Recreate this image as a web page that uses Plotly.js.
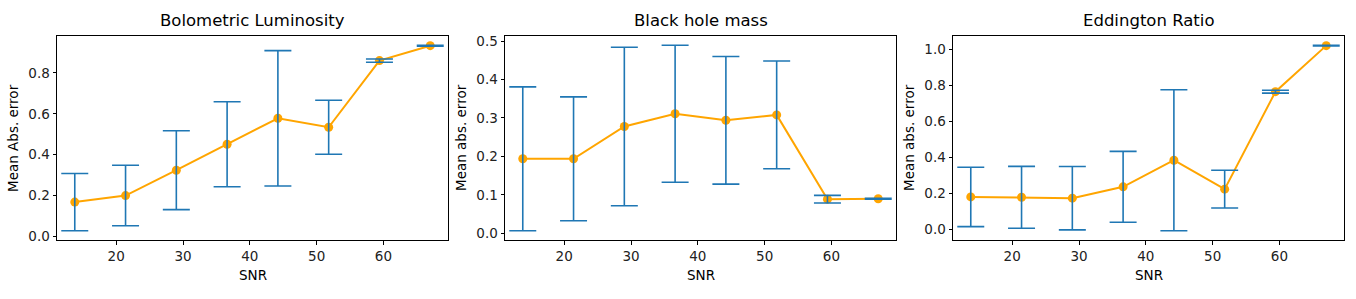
<!DOCTYPE html>
<html>
<head>
<meta charset="utf-8">
<script src="https://cdn.plot.ly/plotly-3.0.1.min.js"></script>
<style>html,body{margin:0;padding:0;background:#fff;}#chart{width:1356px;height:299px;}</style>
</head>
<body>
<div id="chart"></div>
<script>
// ---- data ----
const snr = [13.8, 21.4, 29.0, 36.6, 44.2, 51.8, 59.4, 67.0];
const lumMae = [0.168, 0.200, 0.324, 0.451, 0.578, 0.534, 0.860, 0.933];
const lumErr = [0.140, 0.148, 0.193, 0.208, 0.331, 0.132, 0.008, 0.002];
const bhMae = [0.194, 0.194, 0.278, 0.311, 0.294, 0.308, 0.089, 0.090];
const bhErr = [0.187, 0.161, 0.206, 0.178, 0.166, 0.140, 0.010, 0.001];
const eddMae = [0.181, 0.179, 0.174, 0.237, 0.385, 0.224, 0.766, 1.022];
const eddErr = [0.165, 0.172, 0.176, 0.197, 0.392, 0.105, 0.008, 0.002];
const titles = ["Bolometric Luminosity", "Black hole mass", "Eddington Ratio"];
const yLabels = ["Mean Abs. error", "Mean abs. error", "Mean abs. error"];
const xLabel = "SNR";

const W = 1356, H = 299;
const panelsPx = [[57, 448], [505, 896], [953, 1344]];
const topPx = 36, botPx = 240;
const yDticks = [0.2, 0.1, 0.2];
const series = [[lumMae, lumErr], [bhMae, bhErr], [eddMae, eddErr]];
const FONT = "DejaVu Sans, sans-serif";

function padRange(lo, hi) { const d = (hi - lo) * 0.05; return [lo - d, hi + d]; }

const traces = [];
const layout = {
  width: W, height: H,
  margin: {l: 0, r: 0, t: 0, b: 0},
  paper_bgcolor: "#fff", plot_bgcolor: "#fff",
  showlegend: false,
  font: {family: FONT, size: 13.5, color: "#000"},
  annotations: []
};

series.forEach((s, i) => {
  const [vals, errs] = s;
  const n = i === 0 ? "" : String(i + 1);
  const xa = "x" + n, ya = "y" + n;
  traces.push({
    x: snr, y: vals, type: "scatter", mode: "lines+markers",
    xaxis: xa, yaxis: ya,
    line: {color: "#FFA500", width: 2},
    marker: {color: "#FFA500", size: 9},
    hoverinfo: "skip"
  });
  traces.push({
    x: snr, y: vals, type: "scatter", mode: "markers",
    xaxis: xa, yaxis: ya,
    marker: {color: "rgba(0,0,0,0)", size: 1},
    error_y: {type: "data", array: errs, visible: true, color: "#1f77b4", thickness: 1.6, width: 13.5},
    hoverinfo: "skip"
  });
  const lo = Math.min(...vals.map((v, k) => v - errs[k]));
  const hi = Math.max(...vals.map((v, k) => v + errs[k]));
  const [x0, x1] = panelsPx[i];
  const axCommon = {
    showline: true, mirror: true, linecolor: "#000", linewidth: 1,
    ticks: "outside", ticklen: 3.5, tickwidth: 1, tickcolor: "#000",
    showgrid: false, zeroline: false, automargin: false,
    tickfont: {family: FONT, size: 13.5, color: "#222"}
  };
  layout["xaxis" + n] = Object.assign({}, axCommon, {
    domain: [x0 / W, x1 / W], anchor: ya,
    range: padRange(Math.min(...snr), Math.max(...snr)),
    dtick: 10, tick0: 0
  });
  layout["yaxis" + n] = Object.assign({}, axCommon, {
    domain: [1 - botPx / H, 1 - topPx / H], anchor: xa,
    range: padRange(lo, hi),
    dtick: yDticks[i], tick0: 0, tickformat: ".1f"
  });
  const cx = (x0 + x1) / 2 / W;
  layout.annotations.push({
    text: titles[i], xref: "paper", yref: "paper", x: cx, y: 1 - 21 / H,
    xanchor: "center", yanchor: "middle", showarrow: false,
    font: {family: FONT, size: 16.5, color: "#000"}
  });
  layout.annotations.push({
    text: xLabel, xref: "paper", yref: "paper", x: cx, y: 1 - 275 / H,
    xanchor: "center", yanchor: "middle", showarrow: false,
    font: {family: FONT, size: 13.5, color: "#000"}
  });
  layout.annotations.push({
    text: yLabels[i], xref: "paper", yref: "paper", x: (x0 - 44) / W, y: 1 - 138 / H,
    xanchor: "center", yanchor: "middle", showarrow: false, textangle: -90,
    font: {family: FONT, size: 13.5, color: "#000"}
  });
});

Plotly.newPlot("chart", traces, layout, {staticPlot: true, displayModeBar: false});
</script>
</body>
</html>
